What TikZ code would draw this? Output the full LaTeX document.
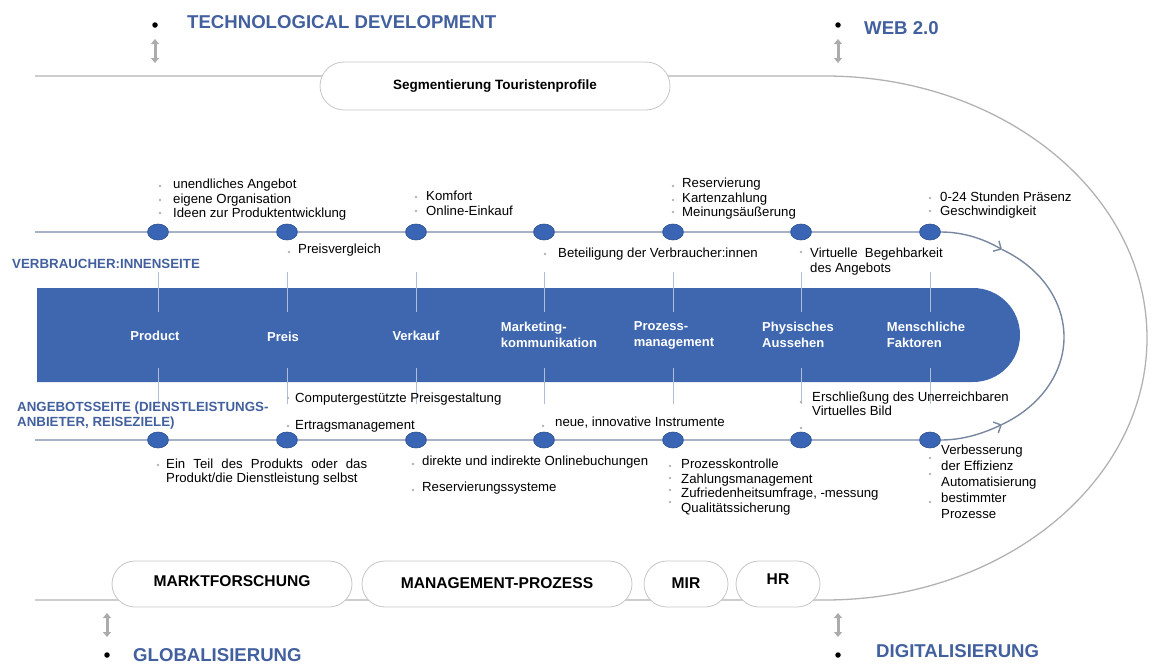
\documentclass[tikz,border=0pt]{standalone}
\usepackage{fontspec}
\setmainfont{Liberation Sans}
\usetikzlibrary{arrows.meta,shapes.geometric,shapes.misc}

\definecolor{barblue}{RGB}{62,103,176}
\definecolor{headblue}{RGB}{66,96,158}
\definecolor{stopblue}{RGB}{58,100,180}
\definecolor{trackgray}{RGB}{165,178,200}
\definecolor{loopgray}{RGB}{120,135,160}
\definecolor{tickgray}{RGB}{175,190,215}

\begin{document}
\begin{tikzpicture}[x=1pt,y=-1pt,
  txt/.style={anchor=west, align=left, inner sep=0pt, font=\fontsize{13.2}{14.5}\selectfont},
  head/.style={anchor=west, inner sep=0pt, text=headblue, font=\bfseries\fontsize{18.6}{20}\selectfont},
  side/.style={anchor=west, align=left, inner sep=0pt, text=headblue, font=\bfseries\fontsize{13.3}{15}\selectfont},
  barlbl/.style={align=left, inner sep=0pt, text=white, font=\bfseries\fontsize{13}{16}\selectfont},
  pill/.style={rounded rectangle, draw=gray!45, fill=white, line width=0.8pt, inner sep=0pt, font=\bfseries\fontsize{15.6}{17}\selectfont},
  stop/.style={ellipse, fill=stopblue, draw=stopblue!80!black, line width=0.6pt, minimum width=21pt, minimum height=16pt, inner sep=0pt},
  blackdot/.style={circle, fill=black, inner sep=0pt, minimum size=5.5pt},
  updown/.style={{Triangle[length=5pt,width=8pt]}-{Triangle[length=5pt,width=8pt]}, line width=3pt, draw=gray!65},
  track/.style={draw=trackgray, line width=2pt},
  tick/.style={draw=tickgray, line width=1pt},
  outer/.style={draw=gray!60, line width=1.3pt},
  loopline/.style={draw=loopgray, line width=1.4pt}]

\useasboundingbox (0,0) rectangle (1160,667);

% outer frame
\draw[outer] (35,76) -- (825,76) arc[start angle=-90, end angle=90, x radius=322, y radius=262] -- (35,600);

% headings with arrows
\node[blackdot] (tdot) at (155,25) {};
\node[head] (tech) at (187,22) {TECHNOLOGICAL DEVELOPMENT};
\draw[updown] (155,39) -- (155,63);
\node[blackdot] (wdot) at (838,25) {};
\node[head] (web) at (864,28) {WEB 2.0};
\draw[updown] (838,39) -- (838,63);
\draw[updown] (107,613) -- (107,637);
\node[blackdot] (gdot) at (107,655) {};
\node[head] (glob) at (133,655) {GLOBALISIERUNG};
\draw[updown] (838,613) -- (838,637);
\node[blackdot] (ddot) at (838,655) {};
\node[head] (digi) at (876,651) {DIGITALISIERUNG};

% pills on the frame
\node[pill, minimum width=350pt, minimum height=48pt, font=\bfseries\fontsize{13.5}{15}\selectfont] (seg) at (495,86) {Segmentierung Touristenprofile};
\node[pill, minimum width=240pt, minimum height=46pt] (mafo) at (232,584) {\raisebox{6pt}{MARKTFORSCHUNG}};
\node[pill, minimum width=270pt, minimum height=46pt] (mgmt) at (497,584) {\raisebox{2pt}{MANAGEMENT-PROZESS}};
\node[pill, minimum width=84pt, minimum height=46pt] (mir) at (686,584) {\raisebox{2pt}{MIR}};
\node[pill, minimum width=84pt, minimum height=46pt] (hr) at (778,584) {\raisebox{10pt}{HR}};

% central bar
\fill[barblue] (37,288) -- (973,288) arc[start angle=-90, end angle=90, radius=47] -- (37,382) -- cycle;
\foreach \x in {158,287,416,544,673,801,930} {
  \draw[tick] (\x,272) -- (\x,312);
  \draw[tick] (\x,368) -- (\x,404);
}
\node[barlbl] (l1) at (155,336) {Product};
\node[barlbl] (l2) at (283,337) {Preis};
\node[barlbl] (l3) at (416,336) {Verkauf};
\node[barlbl] (l4) at (549,335) {Marketing-\\kommunikation};
\node[barlbl] (l5) at (674,335) {Prozess-\\management};
\node[barlbl] (l6) at (798,335) {Physisches\\Aussehen};
\node[barlbl] (l7) at (926,335) {Menschliche\\Faktoren};

% timelines
\coordinate (tstart) at (35,232);
\coordinate (bstart) at (35,440);
\foreach \x [count=\i] in {158,287,416,544,673,801,930} {
  \node[stop] (t\i) at (\x,232) {};
  \node[stop] (b\i) at (\x,440) {};
}
\draw[track] (tstart) -- (t1) -- (t2) -- (t3) -- (t4) -- (t5) -- (t6) -- (t7);
\draw[track] (bstart) -- (b1) -- (b2) -- (b3) -- (b4) -- (b5) -- (b6) -- (b7);

% loop back
\coordinate (arcT) at (1002,249.5);
\coordinate (arcB) at (1002,424.5);
\draw[loopline] (arcT) arc[start angle=-60, end angle=60, x radius=124, y radius=101];
\draw[loopline, -{Straight Barb[length=6pt,width=12pt]}] (t7.east) .. controls (962,232) and (982,238) .. (arcT);
\draw[loopline, -{Straight Barb[length=6pt,width=12pt]}] (b7.east) .. controls (962,440) and (982,434) .. (arcB);

% side labels
\node[side] (cons) at (12,264) {VERBRAUCHER:INNENSEITE};
\node[side] (supp) at (17,415.5) {ANGEBOTSSEITE (DIENSTLEISTUNGS-\\ANBIETER, REISEZIELE)};

% consumer side texts
\node[txt] (pr1) at (173,200) {unendliches Angebot\\eigene Organisation\\Ideen zur Produktentwicklung};
\node[txt] (pe1) at (298,250) {Preisvergleich};
\node[txt] (ve1) at (426,203.5) {Komfort\\Online-Einkauf};
\node[txt] (mk1) at (558,254) {Beteiligung der Verbraucher:innen};
\node[txt] (pm1) at (682,199) {Reservierung\\Kartenzahlung\\Meinungsäußerung};
\node[txt] (ph1) at (810,261.5) {Virtuelle\ \ Begehbarkeit\\des Angebots};
\node[txt] (mf1) at (940,205) {0-24 Stunden Präsenz\\Geschwindigkeit};

% supply side texts
\node[txt] (pe2) at (295,399) {Computergestützte Preisgestaltung};
\node[txt] (pe3) at (295,426) {Ertragsmanagement};
\node[txt] (mk2) at (555,423) {neue, innovative Instrumente};
\node[txt] (ph2) at (812,404) {Erschließung des Unerreichbaren\\Virtuelles Bild};
\node[txt] (pr2) at (166,472) {\makebox[201pt][s]{Ein Teil des Produkts oder das}\\Produkt/die Dienstleistung selbst};
\node[txt] (ve2) at (422,462) {direkte und indirekte Onlinebuchungen};
\node[txt] (ve3) at (422,488) {Reservierungssysteme};
\node[txt] (pm2) at (681,487) {Prozesskontrolle\\Zahlungsmanagement\\Zufriedenheitsumfrage, -messung\\Qualitätssicherung};
\node[txt, font=\fontsize{13.2}{16}\selectfont] (mf2) at (941,482) {Verbesserung\\der Effizienz\\Automatisierung\\bestimmter\\Prozesse};

% small bullets
\foreach \p in {(160,186),(160,200),(160,213),(289,252),(416,197),(416,211),(545,254),
  (673,186),(673,200),(673,212),(801,252),(930,198),(930,211),
  (288,398),(288,426),(543,426),(801,402),(801,428),(158,465),(413,464),(413,490),
  (670,466),(670,478),(670,490),(670,502),(930,458),(930,474),(930,502)}
  \fill[gray!60] \p circle (1.4);
\end{tikzpicture}
\end{document}
